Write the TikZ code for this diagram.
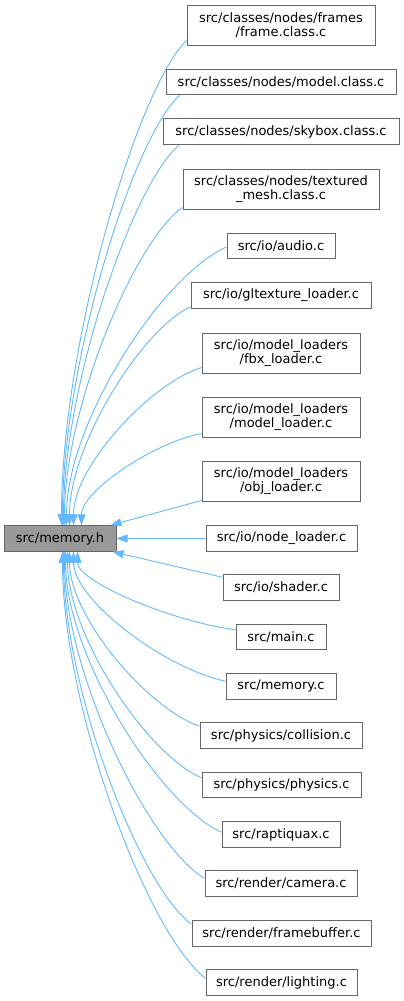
\documentclass[tikz,border=0pt]{standalone}
\usepackage{fontspec}
\setmainfont{DejaVu Sans}
\usetikzlibrary{arrows.meta}
\definecolor{edgeblue}{HTML}{63B8FF}
\definecolor{boxborder}{HTML}{666666}
\definecolor{mainfill}{HTML}{999999}
\begin{document}
\begin{tikzpicture}[x=1pt,y=-1pt,
  box/.style={draw=boxborder, fill=white, line width=1pt, inner sep=1pt, align=center,
    font=\fontsize{13}{14.5}\selectfont, minimum height=25.5pt},
  tall/.style={minimum height=40pt},
  edge/.style={draw=edgeblue, line width=0.9pt, -{Triangle[length=11pt,width=8pt]}},
]
\useasboundingbox (0,0) rectangle (404,1001);

% main node
\node[box, fill=mainfill, minimum width=112pt] (main) at (60,538.5) {src/memory.h};

% dependents
\node[box, tall, minimum width=188pt] (frame) at (281,25) {src/classes/nodes/frames\\/frame.class.c};
\node[box, minimum width=230pt] (modelc) at (281,82) {src/classes/nodes/model.class.c};
\node[box, minimum width=236pt] (skybox) at (281,131.5) {src/classes/nodes/skybox.class.c};
\node[box, tall, minimum width=196pt] (textured) at (281,189) {src/classes/nodes/textured\\\_mesh.class.c};
\node[box, minimum width=108pt] (audio) at (281,246) {src/io/audio.c};
\node[box, minimum width=180pt] (gltex) at (281,295.5) {src/io/gltexture\_loader.c};
\node[box, tall, minimum width=158pt] (fbx) at (281,353) {src/io/model\_loaders\\/fbx\_loader.c};
\node[box, tall, minimum width=158pt] (mload) at (281,417) {src/io/model\_loaders\\/model\_loader.c};
\node[box, tall, minimum width=158pt] (obj) at (281,481) {src/io/model\_loaders\\/obj\_loader.c};
\node[box, minimum width=151pt] (nodel) at (281.5,538.5) {src/io/node\_loader.c};
\node[box, minimum width=116pt] (shader) at (281,587.5) {src/io/shader.c};
\node[box, minimum width=90pt] (mainc) at (281,637) {src/main.c};
\node[box, minimum width=110pt] (memc) at (281,686.5) {src/memory.c};
\node[box, minimum width=162pt] (coll) at (281,735.5) {src/physics/collision.c};
\node[box, minimum width=159pt] (phys) at (281.5,785) {src/physics/physics.c};
\node[box, minimum width=118pt] (rapt) at (281,834.5) {src/raptiquax.c};
\node[box, minimum width=152pt] (cam) at (281,883.5) {src/render/camera.c};
\node[box, minimum width=179pt] (fbuf) at (281.5,933.5) {src/render/framebuffer.c};
\node[box, minimum width=151pt] (light) at (281.5,982.5) {src/render/lighting.c};

% edges above
\draw[edge] ([yshift=5pt]frame.south west) .. controls +(-50,49) and +(0,-180) .. ([xshift=58pt]main.north west);
\draw[edge] ([xshift=14pt]modelc.south west) .. controls +(-47,43) and +(0,-160) .. ([xshift=59pt]main.north west);
\draw[edge] ([xshift=17pt]skybox.south west) .. controls +(-46,38) and +(0,-141) .. ([xshift=60pt]main.north west);
\draw[edge] ([yshift=2pt]textured.south west) .. controls +(-47,32) and +(0,-118) .. ([xshift=61pt]main.north west);
\draw[edge] ([yshift=-1pt]audio.west) .. controls +(-64,28) and +(0,-103) .. ([xshift=63pt]main.north west);
\draw[edge] ([yshift=2pt]gltex.south west) .. controls +(-48,22) and +(0,-81) .. ([xshift=66pt]main.north west);
\draw[edge] ([yshift=6pt]fbx.south west) .. controls +(-51,16) and +(0,-59) .. ([xshift=70pt]main.north west);
\draw[edge] ([yshift=4pt]mload.south west) .. controls +(-48,9) and +(0,-34) .. ([xshift=78pt]main.north west);
\draw[edge] ([yshift=1pt]obj.south west) -- ([xshift=-6pt]main.north east);
% straight
\draw[edge] (nodel.west) -- (main.east);
\draw[edge] ([yshift=-3pt]shader.north west) -- ([xshift=-4pt]main.south east);
% edges below
\draw[edge] ([yshift=-6pt]mainc.north west) .. controls +(-63,-8) and +(0,30) .. ([xshift=74pt]main.south west);
\draw[edge] ([yshift=-8pt]memc.north west) .. controls +(-61,-13) and +(0,48) .. ([xshift=70pt]main.south west);
\draw[edge] ([yshift=-4pt]coll.north west) .. controls +(-52,-18) and +(0,65) .. ([xshift=66pt]main.south west);
\draw[edge] ([yshift=-6pt]phys.north west) .. controls +(-54,-23) and +(0,84) .. ([xshift=64pt]main.south west);
\draw[edge] ([yshift=-11pt]rapt.north west) .. controls +(-62,-28) and +(0,104) .. ([xshift=62pt]main.south west);
\draw[edge] ([yshift=-8pt]cam.north west) .. controls +(-56,-33) and +(0,121) .. ([xshift=61pt]main.south west);
\draw[edge] ([yshift=-4pt]fbuf.north west) .. controls +(-51,-37) and +(0,138) .. ([xshift=60pt]main.south west);
\draw[edge] ([yshift=-9pt]light.north west) .. controls +(-57,-43) and +(0,158) .. ([xshift=59pt]main.south west);
\end{tikzpicture}
\end{document}
